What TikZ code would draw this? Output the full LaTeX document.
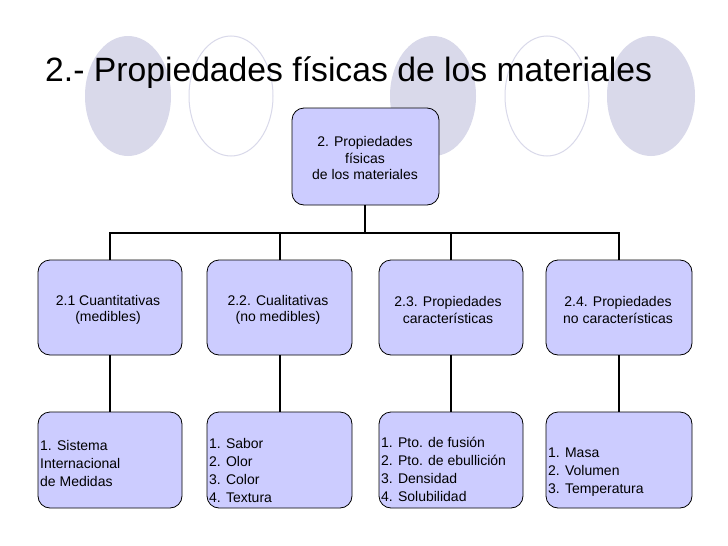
\documentclass[tikz,border=0pt]{standalone}
\usepackage{fontspec}
\setmainfont{Liberation Sans}
\definecolor{boxfill}{HTML}{CCCCFF}
\definecolor{circfill}{HTML}{D9D9EA}
\begin{document}
\begin{tikzpicture}[x=1pt,y=-1pt,
  bx/.style={draw=black,fill=boxfill,rounded corners=12pt,line width=0.8pt,inner sep=0pt},
  lbl/.style={font=\fontsize{14}{16.5}\selectfont,align=center},
  lft/.style={font=\fontsize{14}{18}\selectfont,align=left,anchor=west,inner sep=1pt},
  conn/.style={line width=2pt}]
\useasboundingbox[fill=white] (0,0) rectangle (728,546);
\fill[circfill] (128,96) ellipse (43 and 60);
\draw[circfill,line width=1pt] (231,96) ellipse (42 and 60);
\fill[circfill] (433,96) ellipse (43 and 60);
\draw[circfill,line width=1pt] (547,96) ellipse (42 and 60);
\fill[circfill] (651,96) ellipse (44 and 60);
\node[anchor=west,font=\fontsize{33.7}{36}\selectfont,inner sep=0pt] (title) at (45,73) {2.- Propiedades físicas de los materiales};
% boxes
\path[bx] (292,108) rectangle (439,205); \node[lbl] (top) at (365,158) {2. Propiedades\\físicas\\de los materiales};
\coordinate (topb) at (365,205);
\foreach \i/\l/\r in {a/38/182,b/207/352,c/379/523,d/546/692}{
  \path[bx] (\l,260) rectangle (\r,355);
  \path[bx] (\l,412) rectangle (\r,508);
  \coordinate (\i2t) at ({(\l+\r)/2},260);
  \coordinate (\i2b) at ({(\l+\r)/2},355);
  \coordinate (\i3t) at ({(\l+\r)/2},412);
  \coordinate (\i3l) at ({\l+1},470);
}
\node[lbl] (n1) at (108,310) {2.1 Cuantitativas\\(medibles)};
\node[lbl] (n2) at (278,310) {2.2. Cualitativas\\(no medibles)};
\node[lbl] (n3) at (448,310) {2.3. Propiedades\\características};
\node[lbl] (n4) at (618,310) {2.4. Propiedades\\no características};
\node[lft] (m1) at (a3l) [yshift=7pt] {1. Sistema\\Internacional\\de Medidas};
\node[lft] (m2) at (b3l) {1. Sabor\\2. Olor\\3. Color\\4. Textura};
\node[lft] (m3) at (c3l) [yshift=1pt] {1. Pto. de fusión\\2. Pto. de ebullición\\3. Densidad\\4. Solubilidad};
\node[lft] (m4) at (d3l) [yshift=-2pt] {1. Masa\\2. Volumen\\3. Temperatura};
\coordinate (j) at (365,233);
\draw[conn] (topb) -- (j);
\draw[conn] (a2t) |- (j) -| (d2t);
\draw[conn] (b2t) -- (b2t |- j);
\draw[conn] (c2t) -- (c2t |- j);
\foreach \i in {a,b,c,d}{\draw[conn] (\i2b) -- (\i3t);}
\end{tikzpicture}
\end{document}
